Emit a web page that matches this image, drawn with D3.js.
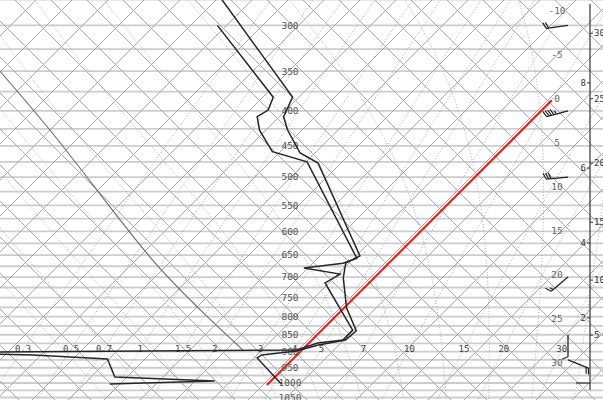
<!DOCTYPE html>
<html>
<head>
<meta charset="utf-8">
<script src="https://cdn.jsdelivr.net/npm/d3@7"></script>
<style>
body { margin: 0; background: #fff; }
svg text { font-family: "DejaVu Sans Mono", monospace; }
</style>
</head>
<body>
<script>
var W = 603, H = 400;

// isobars every 25 hPa, labels every 50
var isobars = d3.range(275, 1075, 25);
var pressureLabels = [300, 350, 400, 450, 500, 550, 600, 650, 700, 750, 800, 850, 900, 950, 1000, 1050];

// temperature profile (hPa, degC)
var tempP = [270, 382, 408, 427, 461, 477, 652, 668, 702, 777, 839, 865, 880, 898, 910, 919, 1003];
var tempT = [-50.0, -29.8, -28.6, -26.6, -22.6, -19.4, -4.1, -4.9, -3.5, 0.3, 4.0, 3.8, 1.3, -0.5, -4.0, -4.2, 1.5];

// dewpoint profile
var dewP = [300, 382, 399, 408, 427, 459, 475, 657, 668, 679, 693, 714, 837, 865, 874, 895, 901, 904, 910, 922, 980, 993, 1003];
var dewT = [-46.5, -32.0, -31.1, -31.6, -29.8, -25.9, -20.8, -4.2, -5.2, -9.1, -4.3, -5.0, 3.5, 3.5, 1.0, -0.6, -34.1, -40.8, -30.0, -21.1, -18.2, -6.4, -18.0];

// parcel curve
var parcelP = [337, 427, 661, 782, 895];
var parcelT = [-68.4, -53.6, -27.2, -16.1, -6.7];

// mixing ratio lines (g/kg)
var mixRatios = [0.3, 0.5, 0.7, 1, 1.5, 2, 3, 4, 5, 7, 10, 15, 20, 30];
// moist adiabats, temp at 1000 hPa
var moistStarts = [-20, -15, -10, -5, 0, 5, 10, 15, 20, 25, 30, 35];
// isotherm labels on the right
var isoLabels = [-10, -5, 0, 5, 10, 15, 20, 25, 30];

// height axis
var kmLabels = [2, 4, 6, 8];
var kmPres = [803, 624, 485, 364];
var kftLabels = [5, 10, 15, 20, 25, 30];
var kftPres = [851, 707, 582, 477, 384, 308];

// winds
var windP = [300, 400, 500, 700, 850, 925];
var windDir = [262, 255, 265, 230, 180, 112];
var windSpd = [20, 45, 30, 15, 10, 20];

var svg = d3.select('body').append('svg')
    .attr('width', W)
    .attr('height', H);
svg.append('rect').attr('width', W).attr('height', H).attr('fill', '#fff');

var yScale = d3.scaleLog().domain([1000, 300]).range([383, 25.4]);
var tScale = d3.scaleLinear().domain([0, 10]).range([269, 357]);

function skewX(t, p) {
    return tScale(t) + (yScale(1000) - yScale(p));
}

function dewFromMix(w, p) {
    var e = w * p / (622 + w);
    var l = Math.log(e / 6.112);
    return 243.5 * l / (17.67 - l);
}

function moistPath(t0) {
    var pts = [];
    var dirs = [[1000, 275, -5], [1000, 1055, 5]];
    dirs.forEach(function (dd, k) {
        var T = t0 + 273.15, p = dd[0];
        var seg = [];
        while ((dd[2] < 0 && p >= dd[1]) || (dd[2] > 0 && p <= dd[1])) {
            seg.push([p, T - 273.15]);
            var tc = T - 273.15;
            var es = 6.112 * Math.exp(17.67 * tc / (tc + 243.5));
            var rs = 0.622 * es / (p - es);
            var dTdp = (287.04 * T + 2.501e6 * rs) /
                (1005.7 + 2.501e6 * 2.501e6 * rs * 0.622 / (287.04 * T * T)) / p;
            T += dTdp * dd[2];
            p += dd[2];
        }
        if (k == 0) pts = seg.reverse(); else pts = pts.concat(seg.slice(1));
    });
    return pts;
}

var grid = svg.append('g');

// isobars
grid.selectAll('.isobar')
    .data(isobars)
    .enter()
    .append('line')
    .attr('x1', 0).attr('x2', W)
    .attr('y1', function (d) { return yScale(d); })
    .attr('y2', function (d) { return yScale(d); })
    .attr('stroke', '#cdcdcd')
    .attr('stroke-width', 1.8);

// diagonal lattice
var step = 36 / 8.8;
var latticeUp = d3.range(0, 29).map(function (n) { return -70 + n * step; });
var latticeDown = d3.range(-13, 17).map(function (m) { return 14.66 + m * step; });
var y0 = yScale(1000);

grid.selectAll('.lup')
    .data(latticeUp)
    .enter()
    .append('line')
    .attr('x1', function (d) { return tScale(d) + y0; })
    .attr('y1', 0)
    .attr('x2', function (d) { return tScale(d) + y0 - H; })
    .attr('y2', H)
    .attr('stroke', '#a8a8a8')
    .attr('stroke-width', 1);

grid.selectAll('.ldown')
    .data(latticeDown)
    .enter()
    .append('line')
    .attr('x1', function (d) { return tScale(d) - y0; })
    .attr('y1', 0)
    .attr('x2', function (d) { return tScale(d) - y0 + H; })
    .attr('y2', H)
    .attr('stroke', '#a8a8a8')
    .attr('stroke-width', 1);

var line = d3.line()
    .x(function (d) { return skewX(d[1], d[0]); })
    .y(function (d) { return yScale(d[0]); });

// mixing ratio lines
grid.selectAll('.mix')
    .data(mixRatios)
    .enter()
    .append('path')
    .attr('d', function (w) {
        return line(d3.range(1055, 270, -10).map(function (p) { return [p, dewFromMix(w, p)]; }));
    })
    .attr('fill', 'none')
    .attr('stroke', '#a6a6a6')
    .attr('stroke-width', 1)
    .attr('stroke-dasharray', '1,2');

// moist adiabats
grid.selectAll('.moist')
    .data(moistStarts)
    .enter()
    .append('path')
    .attr('d', function (t) { return line(moistPath(t)); })
    .attr('fill', 'none')
    .attr('stroke', '#acacac')
    .attr('stroke-width', 1)
    .attr('stroke-dasharray', '1,2');

// parcel curve
svg.append('path')
    .datum(d3.zip(parcelP, parcelT))
    .attr('d', line.curve(d3.curveCatmullRom))
    .attr('fill', 'none')
    .attr('stroke', '#6a6a6a')
    .attr('stroke-width', 1.1);
line.curve(d3.curveLinear);

// 0 degC isotherm
svg.append('path')
    .datum([[1007, 0], [386, 0]])
    .attr('d', line)
    .attr('stroke', '#f01818')
    .attr('stroke-width', 2);

// labels
svg.selectAll('.plab')
    .data(pressureLabels)
    .enter()
    .append('text')
    .attr('x', 290)
    .attr('y', function (d) { return yScale(d); })
    .attr('dy', '0.35em')
    .attr('text-anchor', 'middle')
    .attr('font-size', 9.5)
    .attr('fill', '#555')
    .text(function (d) { return d; });

svg.selectAll('.ilab')
    .data(isoLabels)
    .enter()
    .append('text')
    .attr('x', 557)
    .attr('y', function (d) { return tScale(d) + y0 - 553; })
    .attr('dy', '0.35em')
    .attr('text-anchor', 'middle')
    .attr('font-size', 9.5)
    .attr('fill', '#666')
    .text(function (d) { return d; });

svg.selectAll('.mlab')
    .data(mixRatios)
    .enter()
    .append('text')
    .attr('x', function (w) { return skewX(dewFromMix(w, 892), 892); })
    .attr('y', yScale(892))
    .attr('dy', '0.3em')
    .attr('text-anchor', 'middle')
    .attr('font-size', 9)
    .attr('fill', '#444')
    .text(function (d) { return d; });

// sounding
svg.append('path')
    .datum(d3.zip(dewP, dewT))
    .attr('d', line)
    .attr('fill', 'none')
    .attr('stroke', '#262626')
    .attr('stroke-width', 1.5);

svg.append('path')
    .datum(d3.zip(tempP, tempT))
    .attr('d', line)
    .attr('fill', 'none')
    .attr('stroke', '#262626')
    .attr('stroke-width', 1.5);

// height axis
var ax = svg.append('g');
ax.append('line')
    .attr('x1', 590).attr('x2', 590)
    .attr('y1', 4).attr('y2', 390)
    .attr('stroke', '#333').attr('stroke-width', 1.2);
ax.append('line')
    .attr('x1', 576).attr('x2', 590)
    .attr('y1', yScale(1000)).attr('y2', yScale(1000))
    .attr('stroke', '#333').attr('stroke-width', 1.2);

kmLabels.forEach(function (k, i) {
    var y = yScale(kmPres[i]);
    ax.append('line').attr('x1', 587).attr('x2', 590).attr('y1', y).attr('y2', y)
        .attr('stroke', '#333');
    ax.append('text').attr('x', 586).attr('y', y).attr('dy', '0.35em')
        .attr('text-anchor', 'end').attr('font-size', 9).attr('fill', '#333').text(k);
});
kftLabels.forEach(function (k, i) {
    var y = yScale(kftPres[i]);
    ax.append('line').attr('x1', 590).attr('x2', 593).attr('y1', y).attr('y2', y)
        .attr('stroke', '#333');
    ax.append('text').attr('x', 594).attr('y', y).attr('dy', '0.35em')
        .attr('font-size', 9).attr('fill', '#333').text(k);
});

// wind barbs
function barb(g, x0, yb, dir, spd) {
    var a = dir * Math.PI / 180;
    var ux = Math.sin(a), uy = -Math.cos(a);
    var b = (dir + 90) * Math.PI / 180;
    var bx = Math.sin(b), by = -Math.cos(b);
    var L = 22;
    var st = '#222';
    g.append('line').attr('x1', x0).attr('y1', yb)
        .attr('x2', x0 + ux * L).attr('y2', yb + uy * L)
        .attr('stroke', st).attr('stroke-width', 1.3);
    var rem = Math.round(spd / 5) * 5, pos = L;
    while (rem >= 50) {
        var px = x0 + ux * pos, py = yb + uy * pos;
        g.append('path')
            .attr('d', 'M' + px + ',' + py + 'L' + (px + bx * 7) + ',' + (py + by * 7) +
                'L' + (px - ux * 4) + ',' + (py - uy * 4) + 'Z')
            .attr('fill', st);
        rem -= 50; pos -= 5;
    }
    while (rem >= 10) {
        var qx = x0 + ux * pos, qy = yb + uy * pos;
        g.append('line').attr('x1', qx).attr('y1', qy)
            .attr('x2', qx + bx * 6 + ux * 2.5).attr('y2', qy + by * 6 + uy * 2.5)
            .attr('stroke', st).attr('stroke-width', 1.2);
        rem -= 10; pos -= 2.5;
    }
    if (rem >= 5) {
        if (pos == L) pos -= 2.5;
        var hx = x0 + ux * pos, hy = yb + uy * pos;
        g.append('line').attr('x1', hx).attr('y1', hy)
            .attr('x2', hx + bx * 3.5 + ux * 1.3).attr('y2', hy + by * 3.5 + uy * 1.3)
            .attr('stroke', st).attr('stroke-width', 1.2);
    }
}

var bg = svg.append('g');
windP.forEach(function (p, i) {
    barb(bg, 568, yScale(p), windDir[i], windSpd[i]);
});
</script>
</body>
</html>
